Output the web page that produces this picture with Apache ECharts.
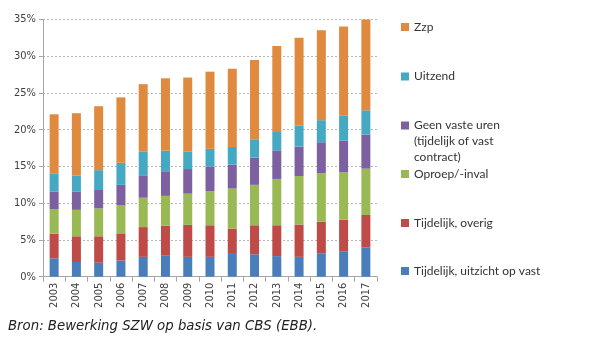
<!DOCTYPE html>
<html>
<head>
<meta charset="utf-8">
<script src="https://cdn.jsdelivr.net/npm/echarts@6/dist/echarts.min.js"></script>
<style>
html,body{margin:0;padding:0;background:#fff;}
#chart{width:600px;height:347px;}
</style>
</head>
<body>
<div id="chart"></div>
<script>
var years = ['2003','2004','2005','2006','2007','2008','2009','2010','2011','2012','2013','2014','2015','2016','2017'];
var yTicks = [0, 5, 10, 15, 20, 25, 30, 35];
var seriesNames = ['Tijdelijk, uitzicht op vast','Tijdelijk, overig','Oproep/-inval','Geen vaste uren (tijdelijk of vast contract)','Uitzend','Zzp'];
var uitzichtVast = [2.5, 2.0, 1.9, 2.2, 2.7, 2.85, 2.7, 2.7, 3.1, 3.05, 2.8, 2.7, 3.2, 3.4, 4.0];
var tijdelijkOverig = [3.35, 3.5, 3.6, 3.7, 4.05, 4.1, 4.35, 4.3, 3.45, 3.95, 4.2, 4.4, 4.3, 4.35, 4.4];
var oproepInval = [3.35, 3.6, 3.8, 3.8, 4.0, 4.05, 4.25, 4.65, 5.45, 5.5, 6.3, 6.6, 6.6, 6.45, 6.3];
var geenVasteUren = [2.4, 2.45, 2.5, 2.8, 3.05, 3.35, 3.35, 3.35, 3.25, 3.7, 3.9, 4.0, 4.2, 4.3, 4.65];
var uitzend = [2.4, 2.2, 2.7, 3.0, 3.2, 2.8, 2.35, 2.4, 2.4, 2.5, 2.5, 2.85, 3.0, 3.45, 3.3];
var zzp = [8.1, 8.5, 8.7, 8.9, 9.2, 9.85, 10.1, 10.5, 10.65, 10.8, 11.7, 11.95, 12.25, 12.1, 12.35];
var caption = 'Bron: Bewerking SZW op basis van CBS (EBB).';

var values = [uitzichtVast, tijdelijkOverig, oproepInval, geenVasteUren, uitzend, zzp];
var colors = ['#4a7ebb', '#be4b48', '#98b954', '#7d60a0', '#46a9c4', '#e08a3f'];

var chart = echarts.init(document.getElementById('chart'), null, {renderer: 'canvas'});

var series = seriesNames.map(function (n, i) {
  return {
    name: n,
    type: 'bar',
    stack: 'total',
    barWidth: 9,
    data: values[i],
    itemStyle: {color: colors[i]},
    emphasis: {disabled: true}
  };
});

var legendCenters = [271, 223, 174, 125.5, 76.5, 27];
var legends = seriesNames.map(function (n, i) {
  var multi = (i === 3);
  return {
    data: [n],
    left: 401,
    top: multi ? legendCenters[i] - 40 : legendCenters[i] - 8,
    padding: 0,
    orient: 'vertical',
    itemWidth: 8,
    itemHeight: 8,
    itemGap: 0,
    icon: 'rect',
    selectedMode: false,
    formatter: multi ? function () { return '\n\nGeen vaste uren\n(tijdelijk of vast\ncontract)'; } : '{name}',
    textStyle: {
      fontFamily: 'Lato, "Open Sans", sans-serif',
      fontSize: 12,
      color: '#333',
      lineHeight: 16
    }
  };
});

chart.setOption({
  animation: false,
  backgroundColor: '#fff',
  grid: {left: 43, right: 223, top: 19.5, bottom: 70.3, containLabel: false},
  legend: legends,
  xAxis: {
    type: 'category',
    data: years,
    axisLine: {show: true, lineStyle: {color: '#a6a6a6', width: 1}},
    axisTick: {show: true, length: 5, alignWithLabel: false, lineStyle: {color: '#a6a6a6'}},
    axisLabel: {
      rotate: 90,
      margin: 6,
      interval: 0,
      fontFamily: '"DejaVu Sans Condensed", "Liberation Sans", sans-serif',
      fontSize: 11,
      color: '#404040'
    }
  },
  yAxis: {
    type: 'value',
    min: yTicks[0],
    max: yTicks[yTicks.length - 1],
    interval: 5,
    axisLine: {show: true, lineStyle: {color: '#a6a6a6', width: 1}},
    axisTick: {show: true, length: 4, lineStyle: {color: '#a6a6a6'}},
    axisLabel: {
      formatter: '{value}%',
      margin: 7,
      fontFamily: '"DejaVu Sans Condensed", "Liberation Sans", sans-serif',
      fontSize: 11,
      color: '#404040'
    },
    splitLine: {show: true, lineStyle: {color: '#b8b8b8', type: [2, 2], width: 1}}
  },
  graphic: [{
    type: 'text',
    left: 8,
    top: 320,
    style: {
      text: caption,
      fontFamily: '"DejaVu Sans", Verdana, sans-serif',
      fontStyle: 'italic',
      fontSize: 13.3,
      fill: '#222'
    }
  }],
  series: series
});
</script>
</body>
</html>
